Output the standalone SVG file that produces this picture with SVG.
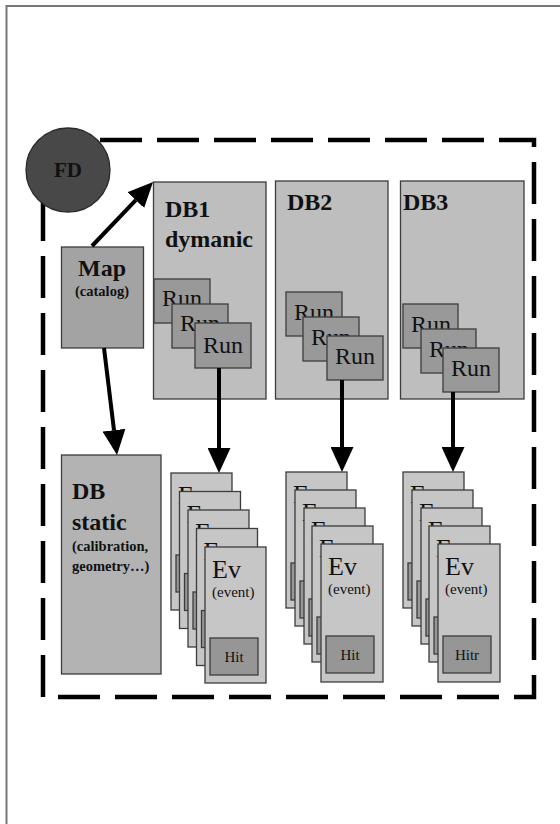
<svg xmlns="http://www.w3.org/2000/svg" width="560" height="824" viewBox="0 0 560 824">
<defs>
<style>
.bx{stroke:#3c3c3c;stroke-width:1.3}
.db{fill:#bebebe}
.map{fill:#a3a3a3}
.st{fill:#b3b3b3}
.run{fill:#999999}
.ev{fill:#c6c6c6}
.hit{fill:#969696}
.b{font-family:"Liberation Serif",serif;font-weight:bold;fill:#111}
.r{font-family:"Liberation Serif",serif;fill:#111}
.conn{stroke:#000;stroke-width:4;fill:none}
</style>
<marker id="ah" viewBox="0 0 25 23" refX="0" refY="11.5" markerWidth="25" markerHeight="23" markerUnits="userSpaceOnUse" orient="auto">
<path d="M0,0 L25,11.5 L0,23 z" fill="#000"/>
</marker>
</defs>
<rect width="560" height="824" fill="#fff"/>
<path d="M6.5,830 V6 H570" fill="none" stroke="#777" stroke-width="2"/>
<g id="frame">
<rect x="43" y="140" width="491" height="557" fill="none" stroke="#000" stroke-width="4.5" stroke-dasharray="42 15"/>
</g>
<g id="fd">
<circle cx="68" cy="170" r="42" fill="#484848" stroke="#2a2a2a" stroke-width="1.3"/>
<text x="68" y="177" class="b" font-size="21" text-anchor="middle">FD</text>
</g>
<g id="map">
<rect x="61.5" y="247" width="82" height="101" class="bx map"/>
<text x="102" y="276" class="b" font-size="24" text-anchor="middle">Map</text>
<text x="102" y="296" class="b" font-size="14.5" text-anchor="middle">(catalog)</text>
</g>
<g id="dbstatic">
<rect x="61.5" y="455" width="99.5" height="219" class="bx st"/>
<text x="72" y="499" class="b" font-size="24">DB</text>
<text x="72" y="530" class="b" font-size="24">static</text>
<text x="72" y="551" class="b" font-size="14.5">(calibration,</text>
<text x="72" y="571" class="b" font-size="14.5">geometry…)</text>
</g>
<g id="db1">
<rect x="153.5" y="182" width="112.5" height="217" class="bx db"/>
<text x="165" y="217" class="b" font-size="24">DB1</text>
<text x="165" y="247" class="b" font-size="24">dymanic</text>
<rect x="154" y="279" width="56" height="44" class="bx run"/>
<text x="162" y="306" class="r" font-size="24">Run</text>
<rect x="172" y="304" width="56" height="44" class="bx run"/>
<text x="180" y="331" class="r" font-size="24">Run</text>
<rect x="195" y="323" width="56" height="45" class="bx run"/>
<text x="203" y="353" class="r" font-size="24">Run</text>
</g>
<g id="db2">
<rect x="275.5" y="181" width="112.5" height="218" class="bx db"/>
<text x="287" y="210" class="b" font-size="24">DB2</text>
<rect x="286" y="292" width="56" height="44" class="bx run"/>
<text x="294" y="320" class="r" font-size="24">Run</text>
<rect x="303" y="317" width="56" height="44" class="bx run"/>
<text x="311" y="345" class="r" font-size="24">Run</text>
<rect x="327" y="336" width="56" height="44" class="bx run"/>
<text x="335" y="364" class="r" font-size="24">Run</text>
</g>
<g id="db3">
<rect x="400.5" y="181" width="123.5" height="218" class="bx db"/>
<text x="403" y="210" class="b" font-size="24">DB3</text>
<rect x="403" y="304" width="55" height="44" class="bx run"/>
<text x="411" y="332" class="r" font-size="24">Run</text>
<rect x="421" y="329" width="55" height="44" class="bx run"/>
<text x="429" y="357" class="r" font-size="24">Run</text>
<rect x="443" y="348" width="56" height="44" class="bx run"/>
<text x="451" y="376" class="r" font-size="24">Run</text>
</g>
<g id="ev1">
<rect x="171" y="473" width="61" height="137" class="bx ev"/>
<text x="178" y="504" class="r" font-size="26">Ev</text>
<rect x="176" y="555" width="48" height="37" class="bx hit"/>
<rect x="179.5" y="491.5" width="61" height="137" class="bx ev"/>
<text x="186.5" y="522.5" class="r" font-size="26">Ev</text>
<rect x="184.5" y="573.5" width="48" height="37" class="bx hit"/>
<rect x="188" y="510" width="61" height="137" class="bx ev"/>
<text x="195" y="541" class="r" font-size="26">Ev</text>
<rect x="193" y="592" width="48" height="37" class="bx hit"/>
<rect x="196.5" y="528.5" width="61" height="137" class="bx ev"/>
<text x="203.5" y="559.5" class="r" font-size="26">Ev</text>
<rect x="201.5" y="610.5" width="48" height="37" class="bx hit"/>
<rect x="205" y="547" width="61" height="136" class="bx ev"/>
<text x="212" y="578" class="r" font-size="26">Ev</text>
<text x="212" y="597" class="r" font-size="15">(event)</text>
<rect x="210" y="638" width="48" height="37" class="bx hit"/>
<text x="234" y="662" class="r" font-size="15" text-anchor="middle">Hit</text>
</g>
<g id="ev2">
<rect x="286" y="472" width="61" height="136" class="bx ev"/>
<text x="293" y="503" class="r" font-size="26">Ev</text>
<rect x="291" y="563" width="48" height="37" class="bx hit"/>
<rect x="295" y="490" width="61" height="136" class="bx ev"/>
<text x="302" y="521" class="r" font-size="26">Ev</text>
<rect x="300" y="581" width="48" height="37" class="bx hit"/>
<rect x="304" y="508" width="61" height="136" class="bx ev"/>
<text x="311" y="539" class="r" font-size="26">Ev</text>
<rect x="309" y="599" width="48" height="37" class="bx hit"/>
<rect x="312" y="526" width="61" height="136" class="bx ev"/>
<text x="319" y="557" class="r" font-size="26">Ev</text>
<rect x="317" y="617" width="48" height="37" class="bx hit"/>
<rect x="321" y="544" width="62" height="138" class="bx ev"/>
<text x="328" y="575" class="r" font-size="26">Ev</text>
<text x="328" y="594" class="r" font-size="15">(event)</text>
<rect x="326" y="636" width="48" height="37" class="bx hit"/>
<text x="350" y="660" class="r" font-size="15" text-anchor="middle">Hit</text>
</g>
<g id="ev3">
<rect x="403" y="472" width="61" height="136" class="bx ev"/>
<text x="410" y="503" class="r" font-size="26">Ev</text>
<rect x="408" y="563" width="48" height="37" class="bx hit"/>
<rect x="412" y="490" width="61" height="136" class="bx ev"/>
<text x="419" y="521" class="r" font-size="26">Ev</text>
<rect x="417" y="581" width="48" height="37" class="bx hit"/>
<rect x="421" y="508" width="61" height="136" class="bx ev"/>
<text x="428" y="539" class="r" font-size="26">Ev</text>
<rect x="426" y="599" width="48" height="37" class="bx hit"/>
<rect x="429" y="526" width="61" height="136" class="bx ev"/>
<text x="436" y="557" class="r" font-size="26">Ev</text>
<rect x="434" y="617" width="48" height="37" class="bx hit"/>
<rect x="438" y="544" width="62" height="138" class="bx ev"/>
<text x="445" y="575" class="r" font-size="26">Ev</text>
<text x="445" y="594" class="r" font-size="15">(event)</text>
<rect x="443" y="636" width="48" height="37" class="bx hit"/>
<text x="467" y="660" class="r" font-size="15" text-anchor="middle">Hitr</text>
</g>
<g id="connectors">
<path class="conn" d="M92,246 L135.8,200.1" marker-end="url(#ah)"/>
<path class="conn" d="M104,348 L114,430.2" marker-end="url(#ah)"/>
<path class="conn" d="M219,368 V448" marker-end="url(#ah)"/>
<path class="conn" d="M342,380 V447" marker-end="url(#ah)"/>
<path class="conn" d="M453,392 V447" marker-end="url(#ah)"/>
</g>
</svg>
